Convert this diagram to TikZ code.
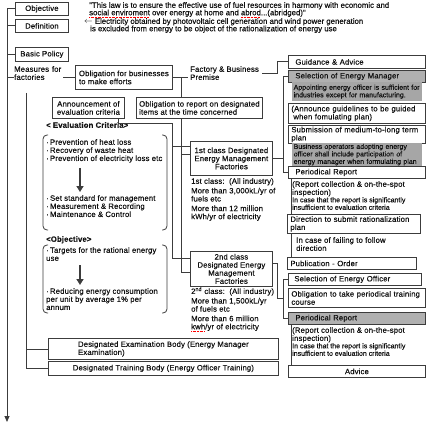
\documentclass[tikz,border=0pt]{standalone}
\usepackage{fontspec}
\setmainfont{Liberation Sans}[LetterSpace=2,FakeBold=0.4]
\newfontfamily\plainsans{Liberation Sans}[FakeBold=0.4]
\usetikzlibrary{arrows.meta}
\definecolor{linegray}{HTML}{3C3C3C}
\definecolor{txt}{HTML}{111111}
\definecolor{hdgray}{HTML}{B0B0B0}
\definecolor{blkgray}{HTML}{A6A6A6}
\newcommand{\fs}{\fontsize{7.7}{8.1}\selectfont}
\newcommand{\fss}{\plainsans\fontsize{7}{6.4}\selectfont}
\newcommand{\fsq}{\plainsans\fontsize{7.8}{7.4}\selectfont}
% red spell-check underline
\newsavebox\spellbox
\newcommand{\spell}[1]{\sbox\spellbox{#1}\rlap{\color{red}\leaders\hbox to 1.4pt{\rule[-1.8pt]{0.8pt}{0.5pt}\hss}\hskip\wd\spellbox}\usebox\spellbox}

\begin{document}
\begin{tikzpicture}[x=1pt,y=-1pt,>=Stealth,
  box/.style={draw=linegray,fill=white,line width=0.8pt,inner xsep=2pt,inner ysep=0pt,anchor=north west,font=\fs,text=txt},
  rbox/.style={box,text width=131pt,inner xsep=3pt,align=left},
  blk/.style={anchor=north west,fill=blkgray,text width=127pt,inner xsep=1.5pt,inner ysep=0.6pt,font=\fss,text=txt,align=left},
  txtnode/.style={anchor=north west,inner sep=0pt,font=\fs,text=txt,align=left},
  link/.style={draw=linegray,line width=0.8pt},
  bigarrow/.style={draw=linegray,line width=2.4pt,-{Triangle[width=7pt,length=6pt]}},
  bracket/.style={draw=linegray,line width=0.8pt,rounded corners=4pt}]
\useasboundingbox (0,0) rectangle (429,428);

% helper x positions
\coordinate (lx) at (7,0);
\coordinate (arrx) at (80,0);
\coordinate (critx) at (172,0);
\coordinate (effx) at (181,0);
\coordinate (gx) at (277,0);
\coordinate (kx) at (277,0);
\coordinate (rx) at (283,0);
\coordinate (vx) at (291,0);

% left column
\node[box,minimum width=53pt,minimum height=13pt] (objective) at (15,2) {Objective};
\node[box,minimum width=53pt,minimum height=13pt] (definition) at (15,19) {Definition};
\node[box,minimum width=53pt,minimum height=14pt] (basic) at (15,47) {Basic Policy};
\node[txtnode] (measures) at (14,66) {\makebox[47pt][s]{Measures for}\\factories};

\node[txtnode,font=\fsq] (quote) at (89,2) {"This law is to ensure the effective use of fuel resources in harmony with economic and\\\spell{social enviroment} over energy at home and \spell{abrod}...(abridged)"};
\node[txtnode,font=\fsq] (excluded) at (84,18) {$\leftarrow$ Electricity obtained by photovoltaic cell generation and wind power generation\\\hspace*{6pt}is excluded from energy to be object of the rationalization of energy use};

% measures for factories
\node[box,minimum width=97pt,minimum height=24pt,align=left] (efforts) at (75,65) {Obligation for businesses\\to make efforts};
\node[txtnode] (premise) at (190,66) {Factory \& Business\\Premise};
\node[box,minimum width=72pt,minimum height=21pt,align=center] (announce) at (52,97) {Announcement of\\evaluation criteria};
\node[box,minimum width=126pt,minimum height=21pt,align=left] (report) at (136,97) {Obligation to report on designated\\items at the time concerned};

\node[txtnode,font=\fs\bfseries] (evalhead) at (46,122) {<~Evaluation Criteria>};
\node[txtnode] (heat) at (46,139) {\textperiodcentered\,Prevention of heat loss\\\textperiodcentered\,Recovery of waste heat\\\textperiodcentered\,Prevention of electricity loss etc};
\node[txtnode] (manage) at (46,195) {\textperiodcentered\,Set standard for management\\\textperiodcentered\,Measurement \& Recording\\\textperiodcentered\,Maintenance \& Control};
\draw[bigarrow] ([yshift=-5pt]heat.south -| arrx) -- ([yshift=3pt]manage.north -| arrx);
\draw[bracket] (48,135) -- (43,135) -- (43,230) -- (48,230);
\draw[bracket] (162,135) -- (167,135) -- (167,230) -- (162,230);

\node[txtnode,font=\fs\bfseries] (objhead) at (46,236) {<Objective>};
\node[txtnode] (targets) at (46,247) {\textperiodcentered\,Targets for the rational energy\\use};
\node[txtnode] (reduce) at (46,288) {\textperiodcentered\,Reducing energy consumption\\per unit by average 1\% per\\annum};
\draw[bigarrow] ([yshift=-4pt]targets.south -| arrx) -- ([yshift=3pt]reduce.north -| arrx);
\draw[bracket] (48,245) -- (43,245) -- (43,313) -- (48,313);
\draw[bracket] (162,245) -- (167,245) -- (167,313) -- (162,313);

% designated factories
\node[box,minimum width=82pt,minimum height=34pt,align=center] (first) at (190,141) {1st class Designated\\Energy Management\\Factories};
\node[txtnode] (firstinfo) at (191,178) {1st class:\ \ (All industry)\\[1.5pt]More than 3,000kL/yr of\\fuels etc\\[1.5pt]More than 12 million\\kWh/yr of electricity};
\node[box,minimum width=82pt,minimum height=35pt,align=center] (second) at (190,251) {2nd class\\Designated Energy\\Management\\Factories};
\node[txtnode] (secondinfo) at (191,287) {2\textsuperscript{nd} class:\ \ (All industry)\\[1.5pt]More than 1,500kL/yr\\of fuels etc\\[1.5pt]More than 6 million\\\spell{kwh}/yr of electricity};

\node[box,minimum width=230pt,minimum height=21pt,align=left] (exam) at (48,338) {Designated Examination Body (Energy Manager\\Examination)};
\node[box,minimum width=230pt,minimum height=14pt] (trainbody) at (48,361) {Designated Training Body (Energy Officer Training)};

% right column
\node[rbox,minimum height=13pt] (guidance) at (288,55) {\hspace*{4pt}Guidance \& Advice};
\node[rbox,minimum height=12pt,fill=hdgray] (selmgr) at (288,70) {\hspace*{4pt}Selection of Energy Manager};
\node[blk,minimum height=19pt] (appoint) at (292,82) {Appointing energy officer is sufficient for\\industries except for manufacturing.};
\node[rbox,minimum height=20pt] (guide) at (288,103) {(Announce guidelines to be guided\\\hspace*{2pt}when fomulating plan)};
\node[rbox,minimum height=18pt] (submit) at (288,125) {\makebox[131pt][s]{Submission of medium-to-long term}\\plan};
\node[blk,minimum height=20pt] (busop) at (292,143) {Business operators adopting energy\\officer shall include participation of\\energy manager when formulating plan};
\node[rbox,minimum height=12pt] (periodic) at (288,166) {\hspace*{4pt}Periodical Report};
\node[txtnode] (collect) at (292,181) {(Report collection \& on-the-spot\\inspection)};
\node[txtnode,font=\fss] (insuff) at (292,197) {In case that the report is significantly\\insufficient to evaluation criteria};
\node[rbox,text width=127pt,minimum height=19pt] (direction) at (287,214) {\makebox[127pt][s]{Direction to submit rationalization}\\plan};
\node[txtnode] (failing) at (296,237) {In case of failing to follow\\direction};
\node[rbox,text width=123pt,minimum height=12pt] (publication) at (287,257) {Publication - Order};
\node[rbox,text width=127pt,minimum height=12pt] (selofficer) at (288,273) {\hspace*{3pt}Selection of Energy Officer};
\node[rbox,minimum height=19pt] (obltrain) at (288,288) {\makebox[131pt][s]{Obligation to take periodical training}\\course};
\node[rbox,minimum height=12pt,fill=hdgray] (periodicb) at (288,312) {\hspace*{4pt}Periodical Report};
\node[txtnode] (collectb) at (292,327) {(Report collection \& on-the-spot\\inspection)};
\node[txtnode,font=\fss] (insuffb) at (292,343) {In case that the report is significantly\\insufficient to evaluation criteria};
\node[rbox,minimum height=12pt,align=center] (advice) at (288,365) {Advice};

% connectors
\coordinate (arrowend) at (7,422);
\draw[link,-{Triangle[width=5pt,length=6pt]}] (objective.west -| lx) -- (arrowend);
\foreach \n in {objective,definition,basic}
  \draw[link] (\n.west -| lx) -- (\n.west);
\draw[link] ([yshift=-4pt]measures.west -| lx) -- ([yshift=-4pt]measures.west);
\draw[link] (efforts.west) -- ([xshift=1.5pt]efforts.west -| measures.east);
\draw[link] (efforts.east) -- ([xshift=-2pt]efforts.east -| premise.west);
\draw[link] ([xshift=3pt]premise.east) -| (gx |- guidance.west) -- (guidance.west);

\coordinate (critbend) at (172,123);
\coordinate (f1) at ([yshift=12pt]first.west);
\coordinate (f2) at ([yshift=4pt]first.west);
\coordinate (s1) at ([yshift=11pt]second.west);
\coordinate (s2) at ([yshift=-3pt]second.west);
\draw[link] ([xshift=-6pt]announce.south east) |- (critbend) |- (s1);
\draw[link] (critbend |- f1) -- (f1);
\draw[link] (efforts.east -| effx) -- (report.north -| effx);
\draw[link] (report.south -| effx) |- (s2);
\draw[link] (f2 -| effx) -- (f2);

\draw[link] (first.east) -- (first.east -| rx);
\draw[link] (selmgr.west) -| (rx |- periodic.west) -- (periodic.west);
\coordinate (s3) at ([yshift=6pt]second.east);
\draw[link] (s3) -| (kx |- obltrain.west) -- (obltrain.west -| rx);
\draw[link] (selofficer.west) -| (rx |- periodicb.west) -- (periodicb.west);

\draw[link] (periodic.south -| vx) -- (direction.north -| vx);
\draw[link] (direction.south -| vx) -- (publication.north -| vx);
\draw[link] (periodicb.south -| vx) -- (advice.north -| vx);

\coordinate (extop) at (26,93);
\draw[link] (extop) |- (trainbody.west);
\draw[link] (exam.west -| extop) -- (exam.west);
\end{tikzpicture}
\end{document}
